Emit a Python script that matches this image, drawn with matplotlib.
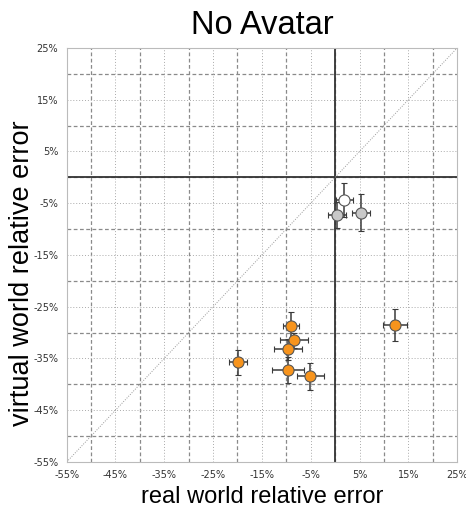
import numpy as np
import matplotlib
matplotlib.use("Agg")
from matplotlib import pyplot as plt

# white point
white_x = [1.9]
white_y = [-4.3]
white_xerr = [1.8]
white_yerr = [3.3]

# gray points
gray_x = [0.4, 5.3]
gray_y = [-7.3, -6.8]
gray_xerr = [1.8, 1.9]
gray_yerr = [2.5, 3.6]

# orange points
orange_x = [-9.0, -8.4, -9.7, -19.9, -9.7, -5.1, 12.3]
orange_y = [-28.8, -31.5, -33.2, -35.7, -37.3, -38.4, -28.6]
orange_xerr = [1.7, 2.9, 2.9, 1.8, 3.3, 2.8, 2.4]
orange_yerr = [2.8, 1.5, 2.0, 2.4, 2.5, 2.6, 3.1]

ticks = [-55, -45, -35, -25, -15, -5, 5, 15, 25]
tick_labels = [str(t) + "%" for t in ticks]

fig = plt.figure(figsize=(4.66, 5.08), dpi=100)
ax = fig.add_axes([0.143, 0.0906, 0.838, 0.815])

ax.set_xlim(-55, 25)
ax.set_ylim(-55, 25)

# grid: dotted at odd fives, dashed at tens
for v in range(-50, 25, 10):
    ax.axvline(v, color='#8a8a8a', lw=0.9, ls=(0, (3, 2)), zorder=0)
    ax.axhline(v, color='#8a8a8a', lw=0.9, ls=(0, (3, 2)), zorder=0)
for v in range(-45, 25, 10):
    ax.axvline(v, color='#aaaaaa', lw=0.7, ls=(0, (1, 2)), zorder=0)
    ax.axhline(v, color='#aaaaaa', lw=0.7, ls=(0, (1, 2)), zorder=0)

ax.axvline(0, color='#333333', lw=1.3, zorder=1)
ax.axhline(0, color='#333333', lw=1.3, zorder=1)
ax.plot([-55, 25], [-55, 25], color='#999999', lw=0.7, ls=(0, (1, 1.5)), zorder=1)

def pts(x, y, xe, ye, fc):
    ax.errorbar(x, y, xerr=xe, yerr=ye, fmt='o', ms=8, mfc=fc, mec='#555555',
                mew=0.8, ecolor='#3a3a3a', elinewidth=1.1, capsize=2.5,
                capthick=1.1, zorder=3)

pts(white_x, white_y, white_xerr, white_yerr, 'white')
pts(gray_x, gray_y, gray_xerr, gray_yerr, '#c8c8c8')
pts(orange_x, orange_y, orange_xerr, orange_yerr, '#f7941d')

ax.set_xticks(ticks)
ax.set_xticklabels(tick_labels)
ax.set_yticks(ticks)
ax.set_yticklabels(tick_labels)
ax.tick_params(length=0, labelsize=7, colors='#333333', pad=6)

for s in ax.spines.values():
    s.set_color('#bbbbbb')
    s.set_linewidth(0.8)

ax.set_title("No Avatar", fontsize=23.5, family='Liberation Sans', pad=10)
ax.set_xlabel("real world relative error", fontsize=17, family='Liberation Sans')
ax.set_ylabel("virtual world relative error", fontsize=19.5, family='Liberation Sans')
ax.xaxis.label.set_va('baseline')
ax.xaxis.set_label_coords(0.5, -0.098)
ax.yaxis.label.set_va('center')
ax.yaxis.set_label_coords(-0.115, 0.455)

fig.savefig("out.png", dpi=100)
